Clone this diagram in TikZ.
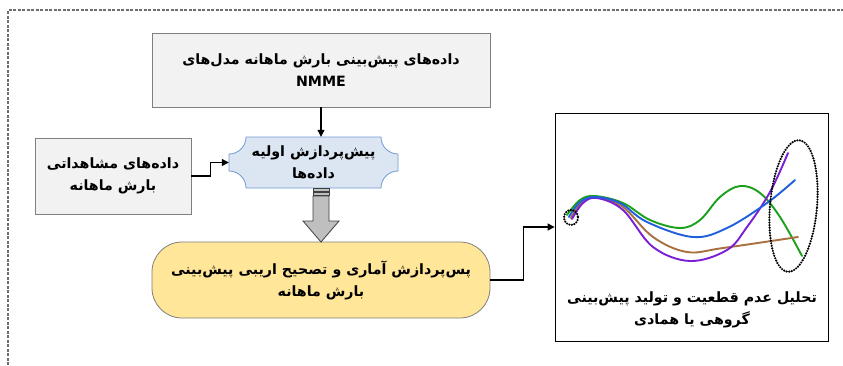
\documentclass[tikz,border=0pt]{standalone}
\usepackage{fontspec}
\newfontfamily\fa[Script=Arabic]{DejaVu Sans}
\TeXXeTstate=1
\usetikzlibrary{arrows.meta}
\definecolor{boxgray}{HTML}{7F7F7F}
\definecolor{boxfill}{HTML}{F2F2F2}
\definecolor{preblue}{HTML}{6F9AD0}
\definecolor{prefill}{HTML}{DCE6F2}
\definecolor{yelfill}{HTML}{FFE699}
\definecolor{arrfill}{HTML}{BFBFBF}
\definecolor{arrdraw}{HTML}{404040}
\definecolor{cgreen}{HTML}{1AA01A}
\definecolor{cblue}{HTML}{1F5FDB}
\definecolor{cbrown}{HTML}{A8703F}
\definecolor{cpurple}{HTML}{7A1FD6}
\definecolor{framegray}{HTML}{6E6E6E}
\begin{document}
\begin{tikzpicture}[x=1pt,y=-1pt,
  txt/.style={font=\fa\bfseries\fontsize{14.2}{22}\selectfont, align=center, text=black},
  gbox/.style={draw=boxgray, fill=boxfill, line width=0.8pt, inner sep=0pt},
  conn/.style={line width=1.1pt, -{Triangle[length=7pt,width=7pt]}},
  curve/.style={line width=1.9pt, line cap=round},
  dotring/.style={line width=2.4pt, dash pattern=on 0pt off 2.6pt, line cap=round},
  framedash/.style={draw=framegray, line width=1.2pt, dash pattern=on 3pt off 1.5pt}]
\useasboundingbox (0,0) rectangle (843,365);
% outer dashed frame
\draw[framedash] (8,365) -- (8,10) -- (843,10);
% top box
\node[gbox, txt, minimum width=338pt, minimum height=74pt] (top) at (321,70)
  {\beginR داده‌های پیش‌بینی بارش ماهانه مدل‌های\endR\\ NMME};
% observation box
\node[gbox, txt, minimum width=156pt, minimum height=76pt] (obs) at (113,176)
  {\beginR داده‌های مشاهداتی\endR\\ \beginR بارش ماهانه\endR};
% preprocessing plaque
\draw[draw=preblue, fill=prefill, line width=0.8pt]
  (246,137) -- (381,137)
  .. controls (381,146.4) and (388.6,154) .. (398,154) -- (398,171)
  .. controls (388.6,171) and (381,178.6) .. (381,188) -- (246,188)
  .. controls (246,178.6) and (238.4,171) .. (229,171) -- (229,154)
  .. controls (238.4,154) and (246,146.4) .. (246,137) -- cycle;
\node[txt, minimum width=169pt, minimum height=51pt, inner sep=0pt] (pre) at (313.5,162.5)
  {\beginR پیش‌پردازش اولیه\endR\\ \beginR داده‌ها\endR};
% yellow box
\node[draw=boxgray, fill=yelfill, line width=0.8pt, rounded corners=30pt, txt,
  minimum width=338pt, minimum height=76pt, inner sep=0pt] (yel) at (321,280)
  {\beginR پس‌پردازش آماری و تصحیح اریبی پیش‌بینی\endR\\ \beginR بارش ماهانه\endR};
% block arrow
\draw[draw=arrdraw, fill=arrfill, line width=0.8pt]
  (313,196) -- (329,196) -- (329,221) -- (339,221) -- (321,242) -- (303,221) -- (313,221) -- cycle;
\draw[draw=arrdraw, fill=arrfill, line width=0.6pt] (313,188.5) rectangle (329,191.5);
\draw[draw=arrdraw, fill=arrfill, line width=0.6pt] (313,192.5) rectangle (329,195.5);
% picture box
\node[draw=black, fill=white, line width=0.8pt, minimum width=273pt, minimum height=228pt, inner sep=0pt] (pic) at (691.5,227) {};
\node[txt] (pictxt) at (692,310)
  {\beginR تحلیل عدم قطعیت و تولید پیش‌بینی\endR\\ \beginR گروهی یا همادی\endR};
% curves
\draw[curve, cgreen] plot[smooth, tension=0.6] coordinates
  {(567,215) (580,200) (595,196) (623,203) (650,220) (680,228) (700,220) (720,197) (740,186) (760,193) (780,217) (802,256)};
\draw[curve, cbrown] plot[smooth, tension=0.6] coordinates
  {(571,218) (582,202) (597,197) (623,207) (653,237) (687,252) (723,248) (798,237)};
\draw[curve, cpurple] plot[smooth, tension=0.6] coordinates
  {(572,219) (583,203) (597,198) (623,210) (653,247) (690,261) (727,250) (747,227) (770,192) (788,153)};
\draw[curve, cblue] plot[smooth, tension=0.6] coordinates
  {(569,217) (580,202) (595,197) (620,203) (647,222) (693,237) (727,228) (767,203) (795,180)};
\draw[dotring] (571,217.5) ellipse [x radius=7, y radius=7.5];
\draw[dotring] (793.5,206) ellipse [x radius=23.5, y radius=66, rotate=-5];
% connectors
\draw[conn] (top.south) -- (top.south |- pre.north);
\draw[conn] (obs.east) -- ++(19,0) |- (pre.west);
\draw[conn] (yel.east) -- ++(33,0) |- (pic.west);
\end{tikzpicture}
\end{document}
